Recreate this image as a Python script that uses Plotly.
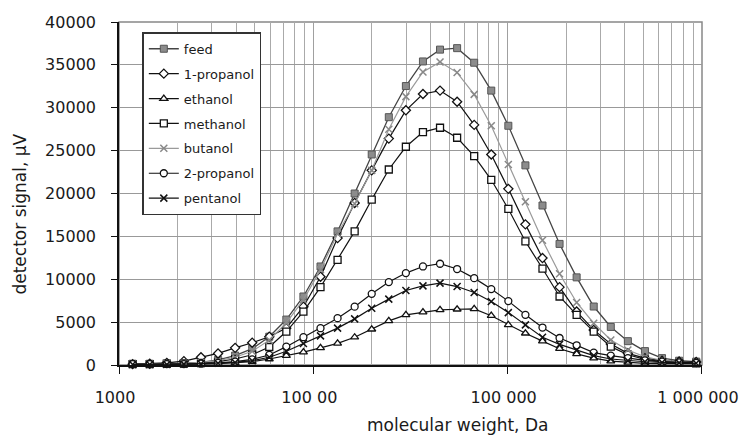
import plotly.graph_objects as go

mw = [1175, 1439, 1762, 2157, 2641, 3233, 3958, 4845, 5932, 7262, 8891, 10885, 13326, 16315,
      19974, 24453, 29937, 36651, 44871, 54934, 67254, 82337, 100803, 123409, 151086, 184970,
      226453, 277240, 339414, 415534, 508725, 622814, 762490, 933490]

feed = [150, 150, 150, 200, 300, 600, 1100, 1900, 3300, 5300, 7990, 11490, 15580, 20000, 24550,
        28900, 32530, 35400, 36780, 36950, 35250, 32000, 27900, 23280, 18600, 14120, 10220, 6820,
        4440, 2780, 1620, 800, 500, 400]
propanol1 = [100, 150, 250, 450, 900, 1350, 2000, 2600, 3300, 4300, 6800, 10300, 14800, 18900,
             22700, 26400, 29700, 31600, 32000, 30700, 28000, 24550, 20540, 16400, 12470, 9080,
             6230, 4090, 2450, 1360, 800, 500, 400, 350]
ethanol = [50, 50, 50, 50, 100, 150, 250, 400, 700, 1100, 1500, 2000, 2530, 3240, 4170, 5140,
           5850, 6160, 6430, 6500, 6550, 5750, 4680, 3700, 2780, 1900, 1290, 800, 450, 300, 200,
           150, 150, 150]
methanol = [100, 100, 150, 200, 250, 400, 700, 1200, 2100, 3900, 6230, 9080, 12270, 15580, 19290,
            22800, 25450, 27160, 27670, 26500, 24350, 21600, 18200, 14410, 11250, 7990, 5850,
            3890, 2140, 1200, 650, 400, 250, 200]
butanol = [100, 100, 150, 200, 300, 500, 900, 1600, 2900, 4900, 7600, 11100, 15300, 18800, 22700,
           27500, 31300, 34170, 35340, 34100, 31560, 27900, 23380, 19030, 14550, 10640, 7290,
           4870, 2920, 1750, 950, 550, 350, 250]
propanol2 = [100, 100, 100, 100, 150, 250, 400, 650, 1170, 2140, 3240, 4290, 5460, 6800, 8300,
             9670, 10720, 11490, 11810, 11190, 10130, 8850, 7450, 5850, 4370, 3150, 2300, 1450,
             1100, 800, 550, 400, 300, 250]
pentanol = [50, 50, 50, 100, 150, 200, 300, 500, 900, 1600, 2500, 3400, 4300, 5380, 6620, 7680,
            8690, 9230, 9550, 9150, 8450, 7400, 6110, 4680, 3240, 2400, 1750, 1100, 700, 500, 380,
            300, 250, 200]

series_names = ["feed", "1-propanol", "ethanol", "methanol", "butanol", "2-propanol", "pentanol"]
series_values = [feed, propanol1, ethanol, methanol, butanol, propanol2, pentanol]

x_tickvals = [1000, 10000, 100000, 1000000]
x_ticktext = ["1000", "100 00", "100 000", "1 000 000"]
x_minor = [m * d for d in (1000, 10000, 100000) for m in range(2, 10)]
y_tickvals = list(range(0, 40001, 5000))

styles = {
    "feed": dict(line=dict(color="#444444", width=1.3),
                 marker=dict(symbol="square", size=7, color="#8c8c8c",
                             line=dict(color="#555555", width=1))),
    "1-propanol": dict(line=dict(color="#111111", width=1.2),
                       marker=dict(symbol="diamond", size=7, color="white",
                                   line=dict(color="#111111", width=1.3))),
    "ethanol": dict(line=dict(color="#111111", width=1.2),
                    marker=dict(symbol="triangle-up", size=7, color="white",
                                line=dict(color="#111111", width=1.3))),
    "methanol": dict(line=dict(color="#111111", width=1.2),
                     marker=dict(symbol="square", size=7, color="white",
                                 line=dict(color="#111111", width=1.3))),
    "butanol": dict(line=dict(color="#9a9a9a", width=1.2),
                    marker=dict(symbol="x-thin", size=7, color="#888888",
                                line=dict(color="#888888", width=1.5))),
    "2-propanol": dict(line=dict(color="#111111", width=1.2),
                       marker=dict(symbol="circle", size=7, color="white",
                                   line=dict(color="#111111", width=1.3))),
    "pentanol": dict(line=dict(color="#111111", width=1.2),
                     marker=dict(symbol="x-thin", size=7, color="#111111",
                                 line=dict(color="#111111", width=1.5))),
}

fig = go.Figure()
for name, vals in zip(series_names, series_values):
    st = styles[name]
    fig.add_trace(go.Scatter(x=mw, y=vals, name=name, mode="lines+markers",
                             line=st["line"], marker=st["marker"], cliponaxis=False,
                             legendgroup=name))

font_main = "DejaVu Sans"
fig.update_layout(
    width=740, height=441,
    margin=dict(l=119, r=38, t=22, b=76, autoexpand=False),
    paper_bgcolor="white", plot_bgcolor="white",
    font=dict(family=font_main, size=16, color="#1a1a1a"),
    showlegend=True,
    legend=dict(x=0.04, y=0.97, xanchor="left", yanchor="top",
                bgcolor="white", bordercolor="#333333", borderwidth=1.5,
                font=dict(family=font_main, size=13, color="#1a1a1a"),
                traceorder="grouped", tracegroupgap=5, itemwidth=30),
    xaxis=dict(type="log", range=[2.9999, 6.0001], tickmode="array", tickvals=x_tickvals,
               ticktext=x_ticktext, showgrid=True, gridcolor="#a0a0a0", gridwidth=1.2,
               showline=True, linecolor="#111111", linewidth=1.6, automargin=False,
               ticks="outside", ticklen=7, tickcolor="#111111", ticklabelstandoff=10,
               ticklabeloverflow="allow", ticklabelshift=-4,
               minor=dict(tickmode="array", tickvals=x_minor, showgrid=True,
                          gridcolor="#aaaaaa", gridwidth=1.2, ticks=""),
               zeroline=False),
    yaxis=dict(range=[0, 40000], tickmode="array", tickvals=y_tickvals, tickformat="d",
               showgrid=True, gridcolor="#999999", gridwidth=1.3,
               showline=True, linecolor="#111111", linewidth=1.6, automargin=False,
               ticks="outside", ticklen=6, tickcolor="#111111", ticklabelstandoff=12,
               zeroline=False),
    shapes=[dict(type="rect", xref="paper", yref="paper", x0=0, x1=1, y0=0, y1=1,
                 line=dict(color="#888888", width=1.5), layer="below")],
    annotations=[
        dict(text="molecular weight, Da", xref="paper", yref="paper", x=0.58, y=-0.175,
             xanchor="center", yanchor="middle", showarrow=False,
             font=dict(family=font_main, size=17, color="#1a1a1a")),
        dict(text="detector signal, µV", xref="paper", yref="paper", x=-0.169, y=0.44,
             xanchor="center", yanchor="middle", showarrow=False, textangle=-90,
             font=dict(family=font_main, size=17, color="#1a1a1a")),
    ],
)

fig.write_html("out.html")
